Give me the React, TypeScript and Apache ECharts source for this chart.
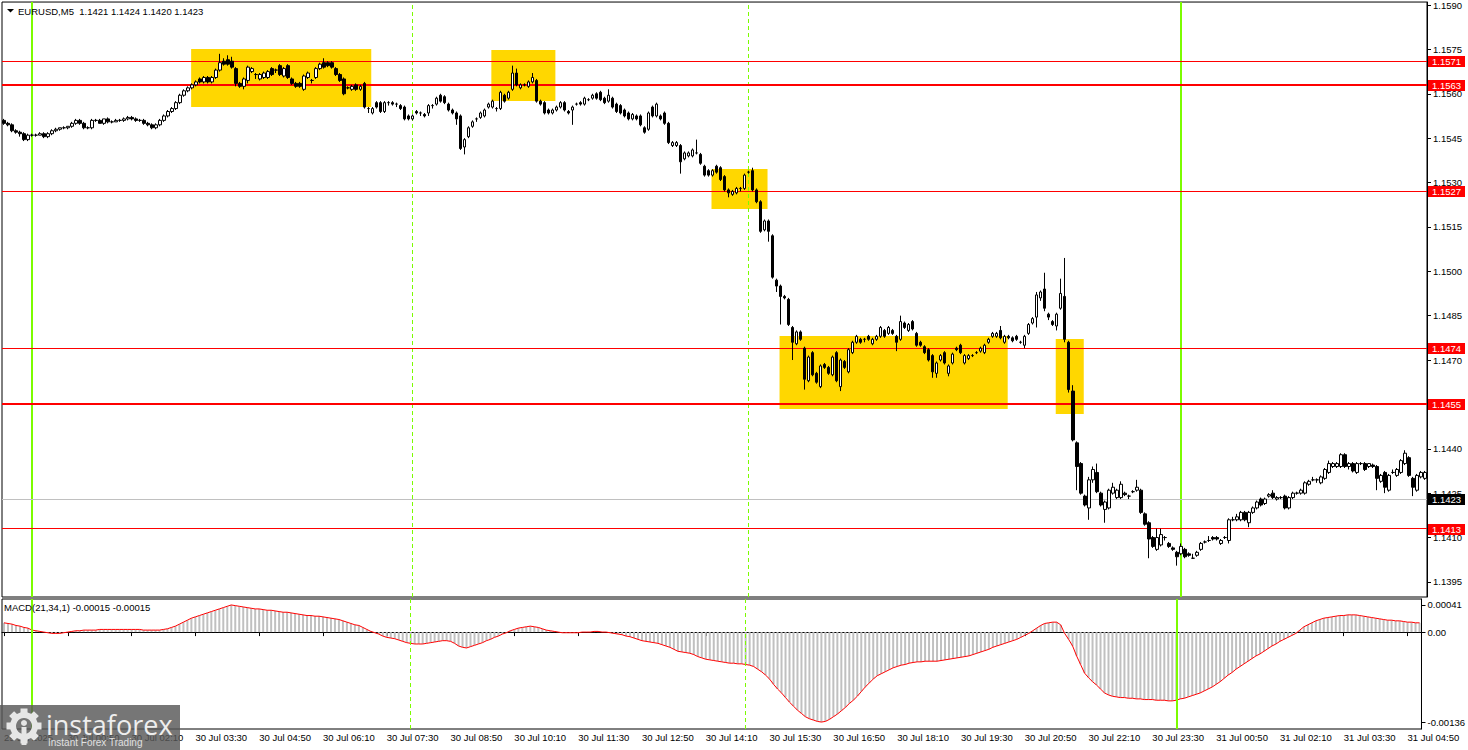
import React, { useEffect, useRef } from "react";
import * as echarts from "echarts";

const BASE = 1.14;
const PIP = 0.0001;
const MACD_UNIT = 0.00001;
const LABEL_STEP = 16;
const FONT = "'Liberation Sans', Arial, sans-serif";

const timeLabels = [
  "29 Jul 2025", "30 Jul 00:50", "30 Jul 02:10", "30 Jul 03:30", "30 Jul 04:50", "30 Jul 06:10",
  "30 Jul 07:30", "30 Jul 08:50", "30 Jul 10:10", "30 Jul 11:30", "30 Jul 12:50", "30 Jul 14:10",
  "30 Jul 15:30", "30 Jul 16:50", "30 Jul 18:10", "30 Jul 19:30", "30 Jul 20:50", "30 Jul 22:10",
  "30 Jul 23:30", "31 Jul 00:50", "31 Jul 02:10", "31 Jul 03:30", "31 Jul 04:50",
];

const priceTicks = [1.1395, 1.141, 1.1425, 1.144, 1.1455, 1.147, 1.1485, 1.15, 1.1515, 1.153, 1.1545, 1.156, 1.1575, 1.159];
const macdTicks = [0.00041, 0, -0.00136];

const levelPrices = [1.1571, 1.1563, 1.1527, 1.1474, 1.1455, 1.1413];
const levelWidths = [1, 2, 1, 1, 2, 1];
const bidPrice = 1.1423;

const greenLineBars = [7, 294];
const dashedLineBars = [102, 186];

const boxStartBars = [47, 122, 177, 194, 263];
const boxEndBars = [91, 137, 190, 250, 269];
const boxTopPrices = [1.15751, 1.15748, 1.15346, 1.14781, 1.14771];
const boxBottomPrices = [1.15555, 1.15576, 1.15211, 1.14535, 1.14518];

const titleText = "EURUSD,M5  1.1421 1.1424 1.1420 1.1423";
const macdTitle = "MACD(21,34,1) -0.00015 -0.00015";

// [open, high, low, close] in pips above BASE
const candlesPips: number[][] = [
  [151,151.5,149.5,150],[150,150.5,149,149.5],[149.5,150,147,147.5],[147.5,148,146.5,147],[147,147.5,145.5,146.5],[146.5,147,144,144.5],[144.5,146.5,144,146],[146,146.5,145.5,146],[146,146.5,145.5,146],[146,147,146,146.5],
  [146.5,147,145,145.5],[145.5,147,145,146.5],[146.5,148,146,147.5],[147.5,148.5,147,148],[148,148.5,147.5,148.5],[148.5,149,148,148.5],[148.5,149,148,149],[149,150.5,148.5,150],[150,151.5,149.5,151],[151,151.5,149.5,150],
  [150,150.5,148,148.5],[148.5,149,148,148.5],[148.5,151.5,148,151],[151,151.5,150.5,151],[151,151.5,150,150],[150,151.5,149.5,151.5],[151.5,152,150,150.5],[150.5,151,150,150.5],[150.5,151.5,150.5,151],[151,151.5,150.5,151],
  [151,152,150.5,151.5],[151.5,152.5,151,152],[152,152.5,151,151.5],[151.5,152,150.5,151],[151,151.5,150.5,151],[151,151.5,149.5,150],[150,150.5,149,149.5],[149.5,150,148,148.5],[148.5,150,148,149.5],[149.5,151.5,149,151],
  [151,153,150.5,152.5],[152.5,154.5,152,154],[154,155.5,153.5,155],[155,157.5,154.5,157],[157,160,156.5,159.5],[159.5,161.5,159,161],[161,162.5,160.5,162],[162,163.5,161.5,163],[163,164.5,162.5,164],[165,165.5,163.5,164],
  [164,166,163.5,165.5],[165.5,166,163.5,164],[164,166,163.5,165.5],[165.5,168.5,165,168],[168,173.5,167.5,170.5],[171,172,169.5,170],[171.5,173,169.5,170],[171,172.5,168.5,169],[168.5,169,162.5,163.5],[163.5,164,162,162.5],
  [162.5,165.5,161.5,165],[164.5,169.5,163.5,169],[167.5,169,167,168.5],[166.5,167,165,166.5],[165,167,164.5,166.5],[165.5,167.5,165,167],[165.5,168,165,167.5],[168.5,169,166,166.5],[168,168.5,167,168],[169.5,170,166,166.5],
  [166,169,165.5,168.5],[169.5,170,165,165.5],[165,165.5,163,163.5],[163.5,164,162,162.5],[163.5,164,162,162.5],[161.5,166.5,161,166],[165.5,167.5,165,167],[164.5,165,163.5,164.5],[165.5,169,165,168.5],[168.5,170.5,168,170],
  [170.5,172,168.5,169],[170.5,171,169,169.5],[170.5,171,168.5,169],[168.5,169,166,166.5],[166.5,167,164,164.5],[165,165.5,159.5,160],[162,162.5,161.5,162],[161.5,163,161,162.5],[163,163.5,161,161.5],[161.5,163,161,162.5],
  [163.5,164,155,155.5],[155,155.5,153.5,155],[153.5,155.5,153,155],[157,157.5,155,155.5],[157,157.5,153.5,154],[154,157.5,153.5,157],[157,157.5,156,157],[157,157.5,156,156.5],[156.5,157,155.5,156.5],[156,156.5,154.5,155],
  [155.5,156,151,151.5],[152.5,153,151,151.5],[151.5,153,151,152.5],[154,154.5,153,153.5],[153.5,154,152.5,153.5],[153,153.5,152,152.5],[153.5,156.5,152.5,156],[156,156.5,155,156],[156.5,159,156,158.5],[159.5,160,157,157.5],
  [159,159.5,156.5,157],[156.5,157,154,154.5],[154.5,155,153,153.5],[153.5,154,149.5,151.5],[152.5,153,141,141.5],[142,145,139.5,144.5],[145.5,149,145,148.5],[149,151,148.5,150.5],[151.5,152,150.5,151.5],[152,154,151.5,153.5],
  [152.5,155,152,154.5],[155.5,157,155,156.5],[155.5,158,155,157.5],[155,155.5,154,155],[155,161,154.5,160.5],[159.5,160,157,157.5],[158.5,161,158,160.5],[161.5,169.5,161,167],[167,168.5,162.5,163],[162,163.5,161.5,163],
  [163,163.5,162.5,163],[162.5,164.5,162,164],[164,167,163.5,165.5],[164.5,165,157,157.5],[157.5,158,156,156.5],[157,157.5,153,153.5],[154.5,155,153,153.5],[153.5,155,153,154.5],[154.5,156,154,155.5],[155.5,157.5,155,157],
  [157,157.5,154,154.5],[154,154.5,153,153.5],[154.5,156,149.5,155.5],[156.5,157,156,156.5],[157,157.5,156,156.5],[156.5,159,156,158.5],[158,158.5,157.5,158],[158.5,160,158,159.5],[160,160.5,158,158.5],[160.5,161,157.5,158],
  [158.5,159,156.5,157],[157.5,161.5,157,159.5],[158.5,159,155,155.5],[156.5,157,153.5,154],[156,156.5,153,153.5],[154.5,155,152,152.5],[153.5,154,151,151.5],[151.5,153.5,151,153],[152.5,153,151,151.5],[152.5,153,149,149.5],
  [148.5,149,146.5,147],[148,154,147.5,153.5],[155.5,156,152,152.5],[152.5,157,152,156.5],[152.5,153,151,151.5],[153.5,154,149.5,150],[150,150.5,143,143.5],[142.5,144,142,143.5],[142.5,144,142,143.5],[142.5,143,133,137],
  [138,140.5,137.5,140],[139,140.5,138.5,140],[139,141.5,138.5,141],[140,144.5,139.5,140],[139.5,140,136,136.5],[135.5,136,132,132.5],[134,134.5,132,132.5],[132.5,134.5,132,134],[135.5,136,133,133.5],[135,135.5,130.5,131],
  [132,132.5,127,127.5],[127.5,128,125,126.5],[126,127.5,125.5,127],[126.5,128.5,126,128],[128,128.5,127,128],[128,133,127.5,132.5],[133.5,134,133,133.5],[134,135,127,127.5],[127.5,128,123,123.5],[123.5,124,113,113.5],
  [114,117.5,113.5,117],[117,117.5,110,113.5],[112,112.5,97.5,98],[97,97.5,93,95],[95,95.5,82,91.5],[91.5,92,90.5,91],[90.5,91,81.5,82],[81,81.5,70,76],[75.5,80,75,79.5],[79.5,80,76.5,77],
  [74,74.5,60,63.5],[63,71.5,62.5,71],[72.5,73,64.5,65],[65.5,66,62,62.5],[61,68.5,60.5,68],[68.5,69,67,67.5],[67.5,68,65,65.5],[65,71.5,64.5,71],[72.5,73,62.5,63],[61,70.5,59.5,70],
  [69.5,70,67,67.5],[66,74,65.5,73.5],[72.5,76.5,72,76],[76,78.5,75.5,78],[77,77.5,75.5,76],[77,77.5,76,77],[78,78.5,76.5,77],[75.5,77.5,75,77],[77,78.5,76.5,78],[78,81.5,77.5,81],
  [80,80.5,77.5,78],[79,81.5,78.5,81],[80,80.5,78.5,79],[78,78.5,73,76],[77,85,76.5,83],[82.5,83,80.5,81],[80,82.5,79.5,82],[83,83.5,80,80.5],[79,79.5,74.5,75],[76,76.5,74.5,75],
  [74.5,75,72,72.5],[73.5,74,69.5,70],[71.5,72,64,66],[65.5,69.5,64,69],[70,72,69.5,71.5],[72.5,73,68.5,69],[65.5,68.5,64.5,68],[69,72.5,68.5,72],[74,74.5,73,73.5],[75,75.5,72,72.5],
  [69,72,68.5,71.5],[70.5,72,70,71.5],[71.5,72,71,71.5],[72.5,73,72,72.5],[73,74.5,72.5,74],[72.5,75.5,72,75],[76,77.5,75.5,77],[78,79.5,77.5,79],[78,79.5,77.5,79],[80,81.5,77,77.5],
  [76,78.5,75.5,78],[78,78.5,77,77.5],[77.5,78,76,76.5],[78,78.5,76.5,77],[76,76.5,75.5,76],[75,78.5,74,78],[79,82.5,78.5,82],[82.5,84.5,82,84],[84.5,93,81,92],[91,93.5,90,93],
  [94,99.5,86.5,87.5],[85.5,86,83.5,84.5],[83,83.5,81.5,82],[81.5,86,80,85.5],[87.5,97.5,87,92.5],[91.5,104.5,76,77],[76,76.5,59,60],[59.5,61.5,42.5,43],[42,42.5,26,34],[35,35.5,24.5,25],
  [24,24.5,20.5,21],[20,30.5,16,29.5],[29.5,34,28.5,33],[32,35,25,25.5],[25,25.5,20.5,21],[19.5,22.5,15,22],[20,26.5,19.5,26],[25,28.5,24.5,27],[23.5,26.5,23,26],[23.5,29,23,28],
  [25,25.5,24,24.5],[24,24.5,23,24],[25.5,26,25,25.5],[26,29.5,25.5,27],[26,26.5,18,18.5],[18,18.5,14,14.5],[15,15.5,3,9.5],[10,10.5,6.5,7],[6,13,5.5,10],[7.5,13,7,11],
  [10,10.5,9,10],[8,8.5,6.5,7],[6.5,7,5.5,6],[5,5.5,0.5,3.5],[4.5,8,4,7],[6,6.5,3,3.5],[4.5,5,3.5,4],[3,4.5,3,3],[4,5.5,3.5,5],[6,8.5,5.5,8],
  [8.5,9,8,8.5],[9,10.5,8.5,9],[10,10.5,9,9.5],[10,10.5,9,9.5],[8,9.5,7.5,9],[10,10.5,9.5,10],[9,16.5,8,16],[16,17,15.5,16],[16,18,15.5,17],[16,19,15.5,18.5],
  [18.5,19,15.5,16],[15,19,13.5,18.5],[18.5,20.5,18,20],[20,22.5,19.5,22],[23,23.5,20.5,21],[21.5,23.5,21,23],[24,25,23.5,24.5],[25,26,23,23.5],[23,24,22.5,23.5],[23.5,24,23,23.5],
  [24,24.5,19.5,20],[20,24,19.5,23.5],[23.5,25.5,23,25],[25,25.5,24.5,25],[25,26.5,24.5,26],[25,29,24.5,28.5],[28,29.5,27.5,29],[29.5,30.5,29,29.5],[29.5,30,28.5,29.5],[28.5,31,28,30.5],
  [30,33.5,29.5,33],[32,36,31.5,35],[34,35.5,33.5,35],[34,35.5,33.5,35],[34,38.5,33.5,38],[38,38.5,33.5,34],[34,35.5,33,35],[35,35.5,32,32.5],[32,35.5,31.5,35],[35,35.5,34.5,35],
  [35,35.5,32.5,33],[34,35,33.5,35],[34.5,35,33.5,34],[34,34.5,26,30],[29,31.5,28.5,31],[32,32.5,25,27],[26,31.5,25.5,31],[32,33,31.5,32],[31,33.5,30.5,33],[32,36.5,31.5,36],
  [35,39.5,34.5,38.5],[37,37.5,30.5,31],[30,30.5,24,27],[26,31.5,25.5,31],[30.5,32.5,30,32],[30,32.5,29.5,32],
];

// MACD main values in units of 0.00001
const macdValues: number[] = [
  14,13,12,10,9,7,6,3,2,1,
  0,-1,-2,-2,-2,-1,0,1,2,2,
  3,3,3,3,4,4,4,4,4,4,
  4,4,4,4,4,3,3,3,3,3,
  4,5,7,9,12,15,18,21,23,25,
  27,29,31,33,35,37,39,41,40,39,
  38,37,36,35,35,34,33,33,32,31,
  30,30,29,28,27,26,25,25,24,24,
  23,22,21,20,19,17,15,13,11,10,
  7,4,1,-1,-3,-6,-8,-9,-10,-12,
  -14,-16,-17,-18,-18,-18,-17,-16,-15,-14,
  -13,-13,-14,-17,-21,-23,-24,-22,-20,-18,
  -16,-13,-11,-8,-6,-3,-1,2,4,6,
  7,8,9,8,7,5,3,2,1,0,
  -1,-1,-1,-1,-1,0,0,0,1,1,
  0,0,-1,-2,-3,-4,-6,-7,-9,-11,
  -13,-14,-15,-16,-17,-19,-21,-23,-26,-29,
  -30,-31,-32,-34,-37,-39,-41,-42,-43,-44,
  -45,-46,-47,-47,-48,-48,-49,-50,-52,-56,
  -60,-65,-71,-79,-86,-92,-99,-106,-112,-118,
  -123,-128,-131,-133,-135,-136,-135,-132,-128,-124,
  -119,-114,-108,-103,-97,-90,-83,-77,-71,-66,
  -63,-60,-57,-54,-52,-50,-49,-47,-46,-45,
  -45,-44,-44,-44,-44,-43,-42,-41,-40,-39,
  -38,-37,-36,-34,-32,-30,-28,-26,-23,-21,
  -19,-17,-15,-13,-11,-8,-5,-2,2,6,
  10,13,14,15,15,11,-2,-11,-21,-36,
  -49,-62,-69,-75,-80,-86,-92,-95,-97,-98,
  -99,-99,-100,-100,-101,-101,-102,-102,-102,-103,
  -103,-103,-104,-104,-103,-101,-100,-98,-96,-94,
  -92,-89,-86,-83,-79,-75,-70,-65,-61,-56,
  -52,-48,-44,-40,-36,-33,-29,-25,-21,-18,
  -14,-11,-8,-5,-2,3,8,11,14,17,
  19,21,22,23,24,25,25,26,26,26,
  25,24,23,22,21,20,19,18,18,17,
  17,16,15,15,14,14,
];

const gearAngles = [0, 45, 90, 135, 180, 225, 270, 315];

export default function App() {
  const ref = useRef<HTMLDivElement>(null);

  useEffect(() => {
    const el = ref.current;
    if (!el) return;
    const chart = echarts.init(el, null, { renderer: "svg" });

    const categories = candlesPips.map((_, i) => String(i));
    const px = (p: number) => +(BASE + p * PIP).toFixed(5);
    const candleData = candlesPips.map(([o, h, l, c]) => [px(o), px(c), px(l), px(h)]);
    const macdData = macdValues.map((v) => +(v * MACD_UNIT).toFixed(5));

    const vLines = [
      ...greenLineBars.map((b) => ({ xAxis: String(b), lineStyle: { color: "#7CFC00", width: 2, type: "solid" } })),
      ...dashedLineBars.map((b) => ({ xAxis: String(b), lineStyle: { color: "#7CFC00", width: 1, type: [4, 3] } })),
    ];

    const xLabelInterval = (idx: number) => idx % LABEL_STEP === 0;

    const option: any = {
      animation: false,
      textStyle: { fontFamily: FONT },
      grid: [
        { left: 2, top: 2, width: 1425, height: 595, show: true, borderColor: "#000", borderWidth: 1, backgroundColor: "#fff" },
        { left: 2, top: 599, width: 1425, height: 130, show: true, borderColor: "#000", borderWidth: 1, backgroundColor: "#fff" },
      ],
      xAxis: [
        {
          type: "category", gridIndex: 0, data: categories, boundaryGap: true,
          axisLine: { show: false }, axisTick: { show: false }, axisLabel: { show: false }, splitLine: { show: false },
        },
        {
          type: "category", gridIndex: 1, data: categories, boundaryGap: true,
          axisLine: { show: true, lineStyle: { color: "#000", width: 1 } },
          axisTick: { show: true, interval: xLabelInterval, alignWithLabel: true, length: 4, lineStyle: { color: "#000" } },
          axisLabel: {
            show: true, interval: xLabelInterval, align: "left", margin: 3,
            color: "#000", fontSize: 9.5, fontFamily: FONT, hideOverlap: false,
            formatter: (_v: string, idx: number) => (idx % LABEL_STEP === 0 ? timeLabels[idx / LABEL_STEP] || "" : ""),
          },
          splitLine: { show: false },
        },
      ],
      yAxis: [
        {
          type: "value", gridIndex: 0, position: "right", min: 1.13899, max: 1.1591,
          axisLine: { show: true, lineStyle: { color: "#000" } },
          axisTick: { show: true, length: 4, customValues: priceTicks, lineStyle: { color: "#000" } },
          axisLabel: {
            show: true, customValues: priceTicks, margin: 6, color: "#000", fontSize: 9.5, fontFamily: FONT,
            formatter: (v: number) => v.toFixed(4),
          },
          splitLine: { show: false },
        },
        {
          type: "value", gridIndex: 1, position: "right", min: -0.001465, max: 0.0005,
          axisLine: { show: true, lineStyle: { color: "#000" } },
          axisTick: { show: true, length: 4, customValues: macdTicks, lineStyle: { color: "#000" } },
          axisLabel: {
            show: true, customValues: macdTicks, margin: 6, color: "#000", fontSize: 9.5, fontFamily: FONT,
            formatter: (v: number) => (Math.abs(v) < 1e-9 ? "0.00" : v.toFixed(5)),
          },
          splitLine: { show: false },
        },
      ],
      series: [
        {
          type: "candlestick", xAxisIndex: 0, yAxisIndex: 0, data: candleData, barWidth: 3, silent: true, z: 3,
          itemStyle: { color: "#ffffff", color0: "#000000", borderColor: "#000000", borderColor0: "#000000", borderWidth: 1 },
          markLine: {
            silent: true, symbol: ["none", "none"], animation: false, z: 2,
            label: { show: false },
            data: vLines,
          },
        },
        {
          type: "bar", xAxisIndex: 1, yAxisIndex: 1, data: macdData, barWidth: 2, silent: true,
          itemStyle: { color: "#C0C0C0" },
          markLine: { silent: true, symbol: ["none", "none"], animation: false, label: { show: false }, data: vLines },
        },
        {
          type: "line", xAxisIndex: 1, yAxisIndex: 1, data: macdData, symbol: "none", showSymbol: false, silent: true,
          lineStyle: { color: "#FF0000", width: 1 }, z: 4,
        },
      ],
    };

    chart.setOption(option);

    const toPx = (bar: number, price: number) =>
      chart.convertToPixel({ xAxisIndex: 0, yAxisIndex: 0 }, [String(bar), price]) as number[];

    const boxes = boxStartBars.map((s, i) => {
      const a = toPx(s, boxTopPrices[i]);
      const b = toPx(boxEndBars[i], boxBottomPrices[i]);
      const x0 = a[0] - 1;
      const x1 = b[0] + 3;
      return {
        type: "rect", silent: true, z: 1,
        shape: { x: x0, y: Math.round(a[1]), width: x1 - x0, height: Math.round(b[1]) - Math.round(a[1]) },
        style: { fill: "#FFD700" },
      };
    });

    const gridLeft = 2;
    const gridRight = 1427;

    const levelElements: any[] = [];
    const addLevel = (price: number, width: number, lineColor: string, boxColor: string) => {
      const yRaw = toPx(0, price)[1];
      const y = width % 2 === 1 ? Math.round(yRaw - 0.5) + 0.5 : Math.round(yRaw);
      levelElements.push({
        type: "line", silent: true, z: 2,
        shape: { x1: gridLeft, y1: y, x2: gridRight, y2: y },
        style: { stroke: lineColor, lineWidth: width },
      });
      levelElements.push({
        type: "rect", silent: true, z: 50,
        shape: { x: gridRight + 1, y: Math.round(yRaw) - 5, width: 37, height: 11 },
        style: { fill: boxColor },
      });
      levelElements.push({
        type: "text", silent: true, z: 51, x: gridRight + 5, y: Math.round(yRaw) + 0.5,
        style: { text: price.toFixed(4), fill: "#fff", fontSize: 9.5, fontFamily: FONT, verticalAlign: "middle", align: "left" },
      });
    };
    addLevel(bidPrice, 1, "#C0C0C0", "#000000");
    levelPrices.forEach((p, i) => addLevel(p, levelWidths[i], "#FF0000", "#FF0000"));

    const gearCx = 24;
    const gearCy = 726;
    const teeth = gearAngles.map((deg) => {
      const r = (deg * Math.PI) / 180;
      return {
        type: "rect", silent: true, z: 101,
        x: gearCx + 14 * Math.cos(r), y: gearCy + 14 * Math.sin(r), rotation: -r,
        shape: { x: -3.5, y: -3.5, width: 7, height: 7 },
        style: { fill: "#e6e6e6" },
      };
    });

    const staticGraphics: any[] = [
      { type: "polygon", silent: true, z: 100, shape: { points: [[7, 9], [14, 9], [10.5, 12.5]] }, style: { fill: "#000" } },
      {
        type: "text", silent: true, z: 100, x: 18, y: 11,
        style: { text: titleText, fill: "#000", fontSize: 9.5, fontFamily: FONT, verticalAlign: "middle", align: "left" },
      },
      {
        type: "text", silent: true, z: 100, x: 4, y: 607,
        style: { text: macdTitle, fill: "#000", fontSize: 9.5, fontFamily: FONT, verticalAlign: "middle", align: "left" },
      },
      { type: "rect", silent: true, z: 100, shape: { x: 0, y: 705, width: 180, height: 45 }, style: { fill: "rgba(88,88,88,0.82)" } },
      ...teeth,
      { type: "ring", silent: true, z: 101, shape: { cx: gearCx, cy: gearCy, r: 14, r0: 8 }, style: { fill: "#e6e6e6" } },
      { type: "circle", silent: true, z: 102, shape: { cx: gearCx, cy: gearCy - 3, r: 3 }, style: { fill: "#e6e6e6" } },
      { type: "rect", silent: true, z: 102, shape: { x: gearCx - 2.5, y: gearCy + 1, width: 5, height: 18 }, style: { fill: "#e6e6e6" } },
      {
        type: "text", silent: true, z: 102, x: 46, y: 724,
        style: { text: "instaforex", fill: "#eeeeee", fontSize: 27, fontFamily: "'Open Sans', sans-serif", verticalAlign: "middle", align: "left" },
      },
      {
        type: "text", silent: true, z: 102, x: 48, y: 742,
        style: { text: "Instant Forex Trading", fill: "#e0e0e0", fontSize: 10, fontFamily: FONT, verticalAlign: "middle", align: "left" },
      },
    ];

    chart.setOption({ graphic: [...boxes, ...levelElements, ...staticGraphics] });

    return () => {
      chart.dispose();
    };
  }, []);

  return (
    <div
      ref={ref}
      style={{ position: "fixed", left: 0, top: 0, width: 1468, height: 750, background: "#fff" }}
    />
  );
}
